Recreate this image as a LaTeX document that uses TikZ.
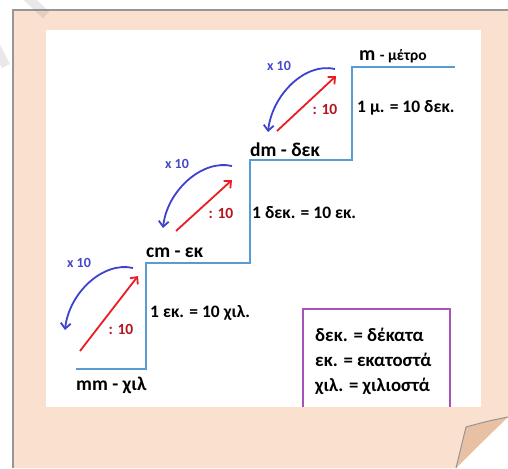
\documentclass[tikz,border=0pt]{standalone}
\usepackage{fontspec}
\setmainfont{Carlito}
\usetikzlibrary{arrows.meta}
\definecolor{paper}{RGB}{250,224,207}
\definecolor{flapc}{RGB}{232,192,164}
\definecolor{edgegray}{RGB}{150,150,150}
\definecolor{stair}{RGB}{91,155,213}
\definecolor{bluearr}{RGB}{62,66,205}
\definecolor{bluetxt}{RGB}{70,72,200}
\definecolor{redarr}{RGB}{236,28,36}
\definecolor{redtxt}{RGB}{180,22,30}
\definecolor{boxpurple}{RGB}{165,85,185}
\begin{document}
\begin{tikzpicture}[x=1pt,y=-1pt,
  lbl/.style={font=\bfseries\fontsize{19.5}{22}\selectfont, inner sep=0pt, anchor=base west, text=black},
  eqlbl/.style={font=\bfseries\fontsize{17.5}{20}\selectfont, inner sep=0pt, anchor=base west, text=black},
  boxlbl/.style={font=\bfseries\fontsize{18.8}{21}\selectfont, inner sep=0pt, anchor=base west, text=black},
  timeslbl/.style={font=\bfseries\fontsize{14}{16}\selectfont, inner sep=0pt, anchor=base, text=bluetxt},
  divlbl/.style={font=\bfseries\fontsize{15.5}{18}\selectfont, inner sep=0pt, anchor=base, text=redtxt},
  stairline/.style={draw=stair, line width=1.6pt},
  mularrow/.style={draw=bluearr, line width=1.8pt, -{Straight Barb[length=5.5pt,width=10pt]}},
  divarrow/.style={draw=redarr, line width=1.8pt, -{Straight Barb[length=5.5pt,width=10pt]}},
]
\useasboundingbox (0,0) rectangle (508,468);
% paper
\fill[paper] (13,10) -- (508,10) -- (508,417) -- (456,468) -- (13,468) -- cycle;
\draw[edgegray, line width=1.5pt] (13,468) -- (13,10) -- (508,10);
% faint watermark strokes
\draw[gray, opacity=0.18, line width=9pt] (26,-4) -- (46,15);
\draw[gray, opacity=0.18, line width=9pt] (-4,47) -- (6,66);
% white sheet
\fill[white] (46,30) rectangle (481,407);
% folded corner
\fill[flapc] (508,417) .. controls (488,421) .. (466,427) .. controls (461,447) .. (456,468) .. controls (478,446) .. (508,417) -- cycle;
\draw[edgegray, line width=1pt] (508,417) .. controls (488,421) .. (466,427) .. controls (461,447) .. (456,468);
% staircase
\coordinate (s1) at (76,369);
\coordinate (s2) at (146,369);
\coordinate (s3) at (146,263);
\coordinate (s4) at (250,263);
\coordinate (s5) at (250,160);
\coordinate (s6) at (352,160);
\coordinate (s7) at (352,67);
\coordinate (s8) at (455,67);
\draw[stairline] (s1) -- (s2) -- (s3) -- (s4) -- (s5) -- (s6) -- (s7) -- (s8);
% unit labels
\node[lbl] (mm) at (76,390) {mm - χιλ};
\node[lbl] (cm) at (146,257) {cm - εκ};
\node[lbl] (dm) at (250,156) {dm - δεκ};
\node[lbl] (m) at (359,61) {\fontsize{20}{22}\selectfont m {\fontsize{15.5}{18}\selectfont - μέτρο}};
% equalities
\node[eqlbl] (e1) at (150,317) {1 εκ. = 10 χιλ.};
\node[eqlbl] (e2) at (252,218) {1 δεκ. = 10 εκ.};
\node[eqlbl] (e3) at (357,113) {1 μ. = 10 δεκ.};
% legend box
\draw[boxpurple, line width=2pt] (303,407) -- (303,309) -- (450,309) -- (450,407);
\node[boxlbl] (b1) at (315,341) {δεκ. = δέκατα};
\node[boxlbl] (b2) at (315,366) {εκ. = εκατοστά};
\node[boxlbl] (b3) at (315,391) {χιλ. = χιλιοστά};
% arrows: top
\coordinate (ta1) at (335,69);
\coordinate (ta2) at (268,132);
\coordinate (tr1) at (277,131);
\coordinate (tr2) at (336,76);
\draw[mularrow] (ta1) .. controls +(-30,-7) and +(4,-37) .. (ta2);
\draw[divarrow] (tr1) -- (tr2);
\node[timeslbl] (tx) at (279,71) {x 10};
\node[divlbl] (td) at (325,114) {: 10};
% arrows: middle
\coordinate (ma1) at (232,166);
\coordinate (ma2) at (163,228);
\coordinate (mr1) at (176,231);
\coordinate (mr2) at (232,180);
\draw[mularrow] (ma1) .. controls +(-30,-7) and +(4,-37) .. (ma2);
\draw[divarrow] (mr1) -- (mr2);
\node[timeslbl] (mx) at (177,168) {x 10};
\node[divlbl] (md) at (221,218) {: 10};
% arrows: bottom
\coordinate (ba1) at (133,268);
\coordinate (ba2) at (65,330);
\coordinate (br1) at (80,351);
\coordinate (br2) at (138,276);
\draw[mularrow] (ba1) .. controls +(-30,-7) and +(4,-37) .. (ba2);
\draw[divarrow] (br1) -- (br2);
\node[timeslbl] (bx) at (79,267) {x 10};
\node[divlbl] (bd) at (121,334) {: 10};
\end{tikzpicture}
\end{document}
